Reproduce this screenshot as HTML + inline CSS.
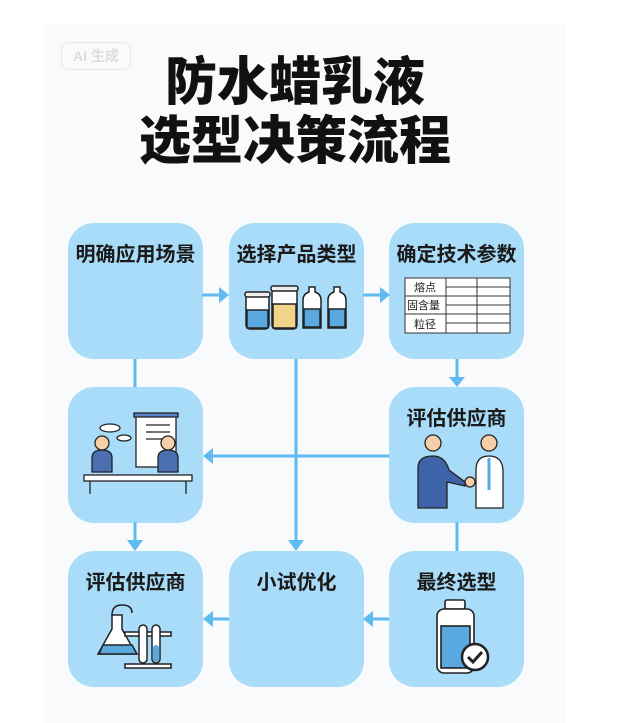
<!DOCTYPE html>
<html><head><meta charset="utf-8"><style>
body{margin:0;width:626px;height:710px;background:#fff;position:relative;overflow:hidden;font-family:"Liberation Sans","Noto Sans CJK SC",sans-serif}
.card{position:absolute;left:44px;top:23px;width:521px;height:700px;background:#f9fafb}
.t{position:absolute;left:0;width:626px;text-align:center;font-weight:900;font-size:52px;color:#111;left:-18px}
.box{position:absolute;width:135px;height:136px;border-radius:26px;background:#a9dcf8}
.lb{position:absolute;top:15px;left:0;width:100%;text-align:center;font-size:20px;font-weight:bold;color:#1a1a1a}
.badge{position:absolute;left:61px;top:42px;width:68px;height:26px;border:1.5px solid #e6e6e6;border-radius:7px;color:#ddd;font-size:14px;font-weight:bold;text-align:center;line-height:26px}
svg{position:absolute;left:0;top:0}
</style></head><body>
<div class="card"></div>
<div class="badge">AI 生成</div>
<div class="t" style="top:53px;line-height:60px">防水蜡乳液</div>
<div class="t" style="top:112px;line-height:60px">选型决策流程</div>

<div class="box" style="left:68px;top:223px"><div class="lb">明确应用场景</div></div>
<div class="box" style="left:229px;top:223px"><div class="lb">选择产品类型</div></div>
<div class="box" style="left:389px;top:223px"><div class="lb">确定技术参数</div></div>
<div class="box" style="left:68px;top:387px"></div>
<div class="box" style="left:389px;top:387px"><div class="lb">评估供应商</div></div>
<div class="box" style="left:68px;top:551px"><div class="lb">评估供应商</div></div>
<div class="box" style="left:229px;top:551px"><div class="lb">小试优化</div></div>
<div class="box" style="left:389px;top:551px"><div class="lb">最终选型</div></div>

<svg width="626" height="710" viewBox="0 0 626 710">
<g stroke="#5fbbf0" stroke-width="3" fill="none">
<line x1="202" y1="295" x2="222" y2="295"/><line x1="363" y1="295" x2="383" y2="295"/>
<line x1="457" y1="359" x2="457" y2="380"/>
<line x1="135" y1="359" x2="135" y2="387"/>
<line x1="296" y1="359" x2="296" y2="544"/>
<line x1="389" y1="456" x2="210" y2="456"/>
<line x1="457" y1="522" x2="457" y2="551"/>
<line x1="135" y1="522" x2="135" y2="544"/>
<line x1="389" y1="619" x2="370" y2="619"/><line x1="229" y1="619" x2="210" y2="619"/>
</g>
<g fill="#5fbbf0">
<polygon points="219,287 229,295 219,303"/><polygon points="380,287 390,295 380,303"/>
<polygon points="449,377 465,377 457,387"/>
<polygon points="288,540 304,540 296,551"/>
<polygon points="203,456 213,448 213,464"/>
<polygon points="127,540 143,540 135,551"/>
<polygon points="363,619 373,611 373,627"/><polygon points="203,619 213,611 213,627"/>
</g>
<g stroke="#222" stroke-width="1.5">
<rect x="246" y="294" width="23" height="35" rx="4" fill="#fff"/><rect x="247" y="310" width="21" height="18" fill="#5aa8e0"/><rect x="245" y="292" width="25" height="5" rx="2" fill="#eee"/>
<rect x="272" y="288" width="25" height="41" rx="4" fill="#fff"/><rect x="273" y="304" width="23" height="24" fill="#f1d48a"/><rect x="271" y="286" width="27" height="5" rx="2" fill="#eee"/>
<path d="M303 300 q0-6 6-8 v-5 h6 v5 q6 2 6 8 v28 h-18z" fill="#fff"/><rect x="304" y="309" width="16" height="18" fill="#5aa8e0"/>
<path d="M328 300 q0-6 6-8 v-5 h6 v5 q6 2 6 8 v28 h-18z" fill="#fff"/><rect x="329" y="309" width="16" height="18" fill="#5aa8e0"/>
</g>
<g stroke="#333" stroke-width="1" fill="#fff">
<rect x="405" y="278" width="105" height="55"/>
<line x1="446" y1="278" x2="446" y2="333"/><line x1="477" y1="278" x2="477" y2="333"/>
<line x1="405" y1="296" x2="510" y2="296"/><line x1="405" y1="314" x2="510" y2="314"/>
<line x1="446" y1="287" x2="510" y2="287"/><line x1="446" y1="305" x2="510" y2="305"/><line x1="446" y1="323" x2="510" y2="323"/>
</g>
<g font-size="11" fill="#222" font-family="Liberation Sans,Noto Sans CJK SC,sans-serif">
<text x="414" y="291">熔点</text><text x="407" y="309">固含量</text><text x="414" y="328">粒径</text></g>
<g stroke="#222" stroke-width="1.3">
<rect x="136" y="415" width="40" height="52" fill="#fff"/><rect x="134" y="413" width="44" height="4" fill="#5b85c8"/>
<line x1="146" y1="425" x2="170" y2="425"/><line x1="146" y1="432" x2="170" y2="432"/><line x1="146" y1="439" x2="170" y2="439"/>
<rect x="84" y="475" width="108" height="6" fill="#fff"/>
<path d="M92 472 v-14 q0-8 10-8 q10 0 10 8 v14z" fill="#4b6fb0"/><circle cx="102" cy="443" r="7" fill="#f5cfa8"/>
<path d="M158 472 v-14 q0-8 10-8 q10 0 10 8 v14z" fill="#4b6fb0"/><circle cx="168" cy="443" r="7" fill="#f5cfa8"/>
<ellipse cx="110" cy="428" rx="10" ry="4" fill="#fff"/><ellipse cx="124" cy="438" rx="7" ry="3" fill="#fff"/>
<line x1="90" y1="481" x2="90" y2="494"/><line x1="186" y1="481" x2="186" y2="494"/>
</g>
<g stroke="#222" stroke-width="1.3">
<circle cx="433" cy="443" r="8" fill="#f5cfa8"/><path d="M418 508 v-40 q0-12 15-12 q12 0 16 14 l16 12 v4 l-18-4 v26z" fill="#3f63a8"/>
<circle cx="489" cy="443" r="8" fill="#f5cfa8"/><path d="M476 508 v-38 q0-14 13-14 q13 0 14 14 v38z" fill="#fff"/>
<line x1="489" y1="458" x2="489" y2="490" stroke="#5aa8e0" stroke-width="3"/>
<circle cx="470" cy="482" r="5" fill="#f5cfa8"/>
</g>
<g stroke="#222" stroke-width="1.5">
<path d="M112 615 h10 v14 l14 25 h-38 l14-25z" fill="#fff"/><path d="M103 645 h29 l5 9 h-38z" fill="#5aa8e0"/>
<path d="M112 615 q0-10 10-10 q10 0 10 8" fill="none"/>
<rect x="125" y="632" width="46" height="4" fill="#fff"/><rect x="125" y="664" width="46" height="4" fill="#fff"/>
<rect x="139" y="625" width="8" height="38" rx="4" fill="#fff"/><rect x="152" y="625" width="8" height="38" rx="4" fill="#fff"/>
<rect x="153" y="645" width="6" height="17" rx="3" fill="#5aa8e0" stroke="none"/>
</g>
<g stroke="#222" stroke-width="1.6">
<rect x="445" y="600" width="20" height="9" rx="2" fill="#fff"/>
<rect x="437" y="609" width="37" height="64" rx="7" fill="#fff"/><rect x="441" y="626" width="29" height="42" fill="#5aa8e0"/>
<circle cx="475" cy="657" r="13" fill="#fff" stroke-width="2.5"/><path d="M468 657 l5 5 l9-10" fill="none" stroke-width="3"/>
</g>
</svg>
</body></html>
